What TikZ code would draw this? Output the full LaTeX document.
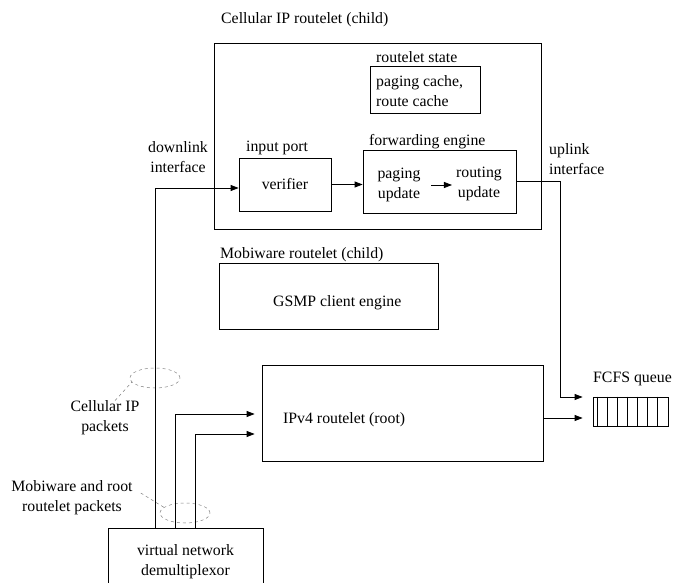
\documentclass[tikz,border=0pt]{standalone}
\usepackage{fontspec}
\setmainfont{Liberation Serif}
\usetikzlibrary{arrows.meta}
\usetikzlibrary{shapes.geometric}
\usetikzlibrary{positioning}
\tikzset{
  caixa/.style={draw, line width=0.8pt, inner sep=0pt, minimum width=#1},
  caixa/.default=100pt,
  rotulo/.style={inner sep=0pt, anchor=base west},
  texto/.style={inner sep=0pt, align=#1},
  texto/.default=center,
  seta/.style={-{Triangle[length=8pt,width=6pt]}, line width=0.8pt},
  pacotes/.style={draw=gray, dashed, line width=0.5pt, ellipse, minimum width=50pt, minimum height=20pt, inner sep=0pt},
  guia/.style={draw=gray, dashed, line width=0.5pt},
}

\begin{document}
\begin{tikzpicture}[x=1pt, y=-1pt, font=\fontsize{15.8}{20}\selectfont]
  \clip (0,0) rectangle (673,583);
  % Cellular IP routelet
  \node[caixa=327pt, minimum height=186pt] (cip) at (377.5,136) {};
  \node[rotulo] (ciplbl) at (221,24) {Cellular IP routelet (child)};
  \node[caixa=110pt, minimum height=47pt] (estado) at (425,89.5) {};
  \node[rotulo] (estadolbl) at (376,63) {routelet state};
  \node[texto=left, anchor=west] (caches) at (376,91) {paging cache,\\route cache};
  \node[caixa=92pt, minimum height=53pt] (verif) at (285,184.5) {verifier};
  \node[rotulo] (portlbl) at (246,152) {input port};
  \node[caixa=153pt, minimum height=63pt] (fwd) at (439.5,181.5) {};
  \node[rotulo] (fwdlbl) at (369,146) {forwarding engine};
  \node[texto] (paging) at (399,185) {paging\\update};
  \node[texto] (routing) at (479,184) {routing\\update};
  \node[texto] (downlbl) at (178,157.5) {downlink\\interface};
  \node[texto=left, anchor=west] (uplbl) at (549,159) {uplink\\interface};
  % Mobiware routelet
  \node[caixa=219pt, minimum height=66pt] (mobi) at (328.5,296) {};
  \node[rotulo] (mobilbl) at (220,259) {Mobiware routelet (child)};
  \node[rotulo] (gsmp) at (273,306.5) {GSMP client engine};
  % IPv4 root
  \node[caixa=281pt, minimum height=96pt] (ipv4) at (402.5,413) {};
  \node[rotulo] (ipv4lbl) at (283,423) {IPv4 routelet (root)};
  % queue
  \node[caixa=75pt, minimum height=29pt] (queue) at (630.5,411.5) {};
  \node[rotulo] (queuelbl) at (593,382) {FCFS queue};
  \foreach \d in {5,15,...,65}
    \draw[line width=0.8pt] ([xshift=\d pt]queue.north west) -- ([xshift=\d pt]queue.south west);
  % demultiplexor
  \node[caixa=155pt, minimum height=67pt, texto] (demux) at (185.5,561.5) {virtual network\\demultiplexor};
  % packet groups
  \node[pacotes] (cpkt) at (155,378) {};
  \node[pacotes] (mpkt) at (185,513) {};
  \node[texto] (cpktlbl) at (105,418) {Cellular IP\\packets};
  \node[texto] (mpktlbl) at (72,498) {Mobiware and root\\routelet packets};
  \draw[guia] ([xshift=10pt]cpktlbl.north) -- (cpkt.190);
  \draw[guia] ([shift={(8pt,5pt)}]mpktlbl.east) -- (mpkt.165);
  % connectors
  \draw[seta] ([xshift=-30.5pt]demux.north) |- ([yshift=-3.5pt]verif.west);
  \draw[seta, shorten >=7pt] ([xshift=-10.5pt]demux.north) |- ([yshift=-1pt]ipv4.west);
  \draw[seta, shorten >=7pt] ([xshift=9.5pt]demux.north) |- ([yshift=-21pt]ipv4.west);
  \draw[seta] (verif) -- (verif -| fwd.west);
  \draw[seta, shorten <=10.5pt, shorten >=4pt] (paging.east) -- (paging.east -| routing.west);
  \draw[seta, shorten >=10pt] (fwd.east) -- ++(44,0) |- ([yshift=14.5pt]queue.west);
  \draw[seta, shorten >=10pt] ([yshift=-6.5pt]queue.west -| ipv4.east) -- ([yshift=-6.5pt]queue.west);
\end{tikzpicture}
\end{document}
